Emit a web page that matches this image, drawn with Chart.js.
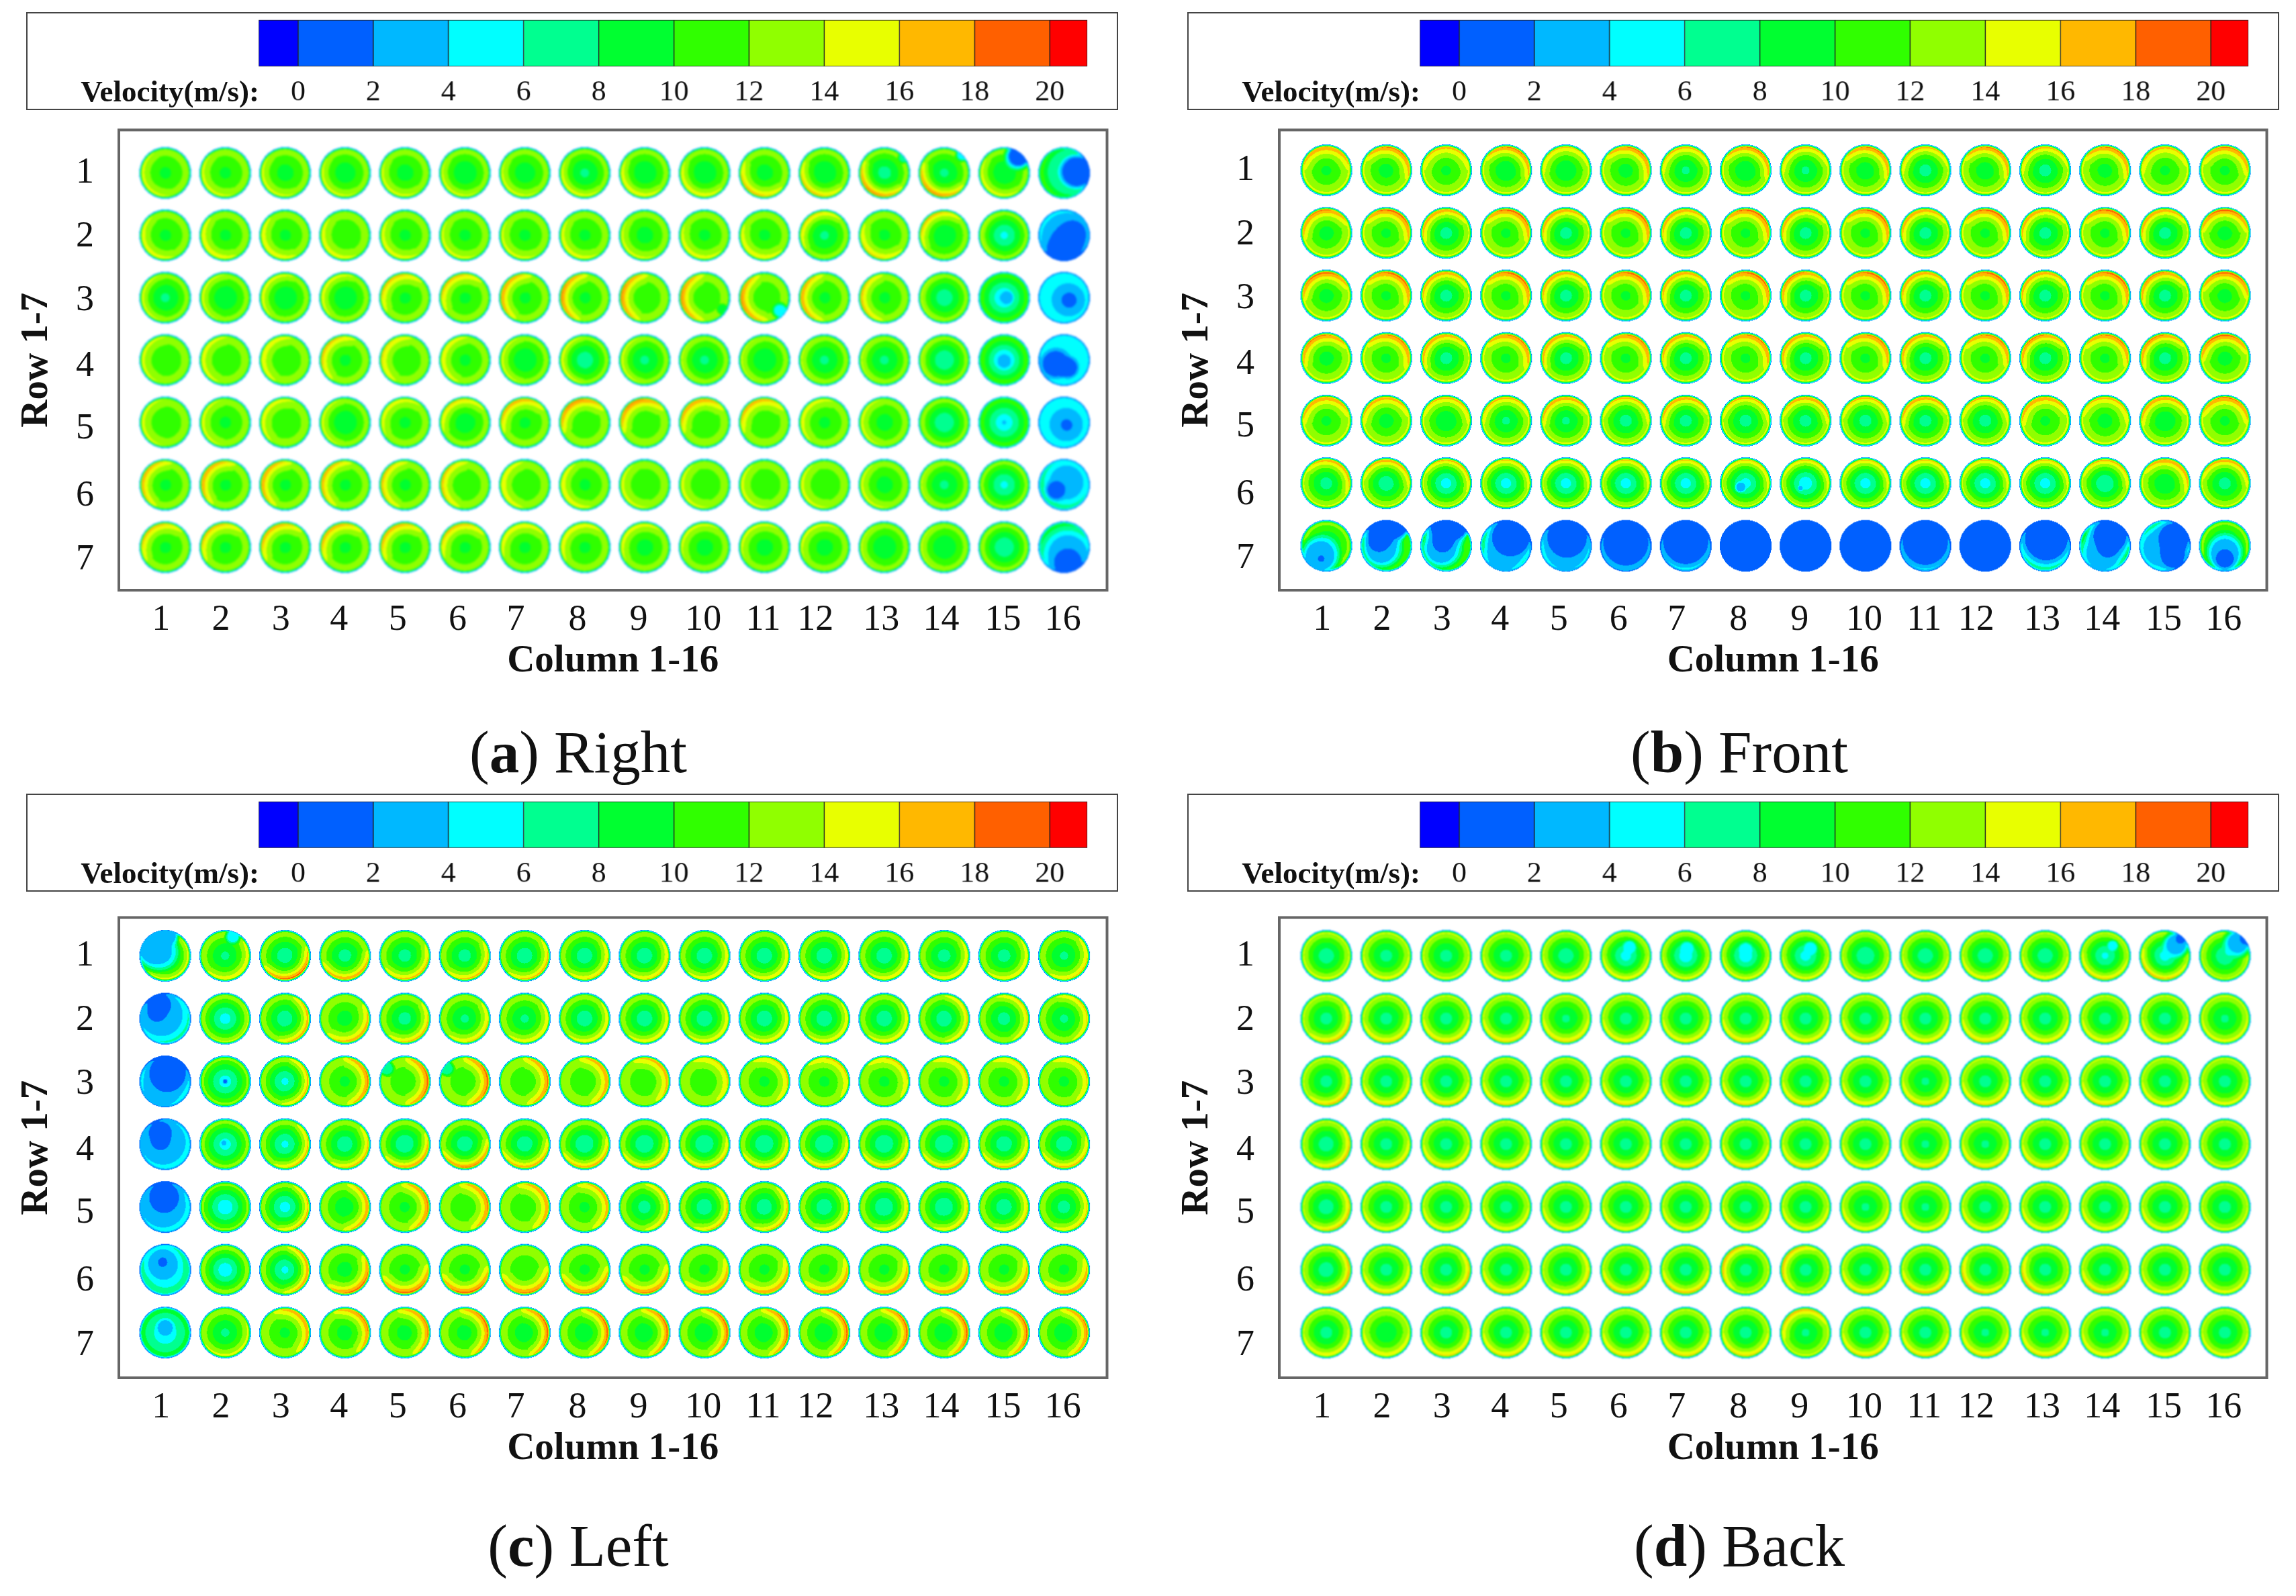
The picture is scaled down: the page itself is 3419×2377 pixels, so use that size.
<!DOCTYPE html>
<html>
<head>
<meta charset="utf-8">
<title>Velocity contours at the outlets</title>
<script src="https://cdn.jsdelivr.net/npm/chart.js@4/dist/chart.umd.min.js"></script>
<style>
  html, body { margin: 0; background: #fff; }
  #page { position: relative; width: 3419px; height: 2377px; overflow: hidden; font-family: 'Liberation Serif', serif; color: #111; }
  canvas { position: absolute; }
  .legendBox { box-sizing: border-box; border: 2px solid #444; }
  .velLabel { position: absolute; font-size: 45px; font-weight: bold; white-space: nowrap; transform: translate(-100%, -50%); }
  .caption { position: absolute; font-size: 89px; white-space: nowrap; transform: translate(-50%, -50%); }
</style>
</head>
<body>
<div id="page"></div>
<script>
//** COLOUR BAR */
const barEdges = [-1.05, 0, 2, 4, 6, 8, 10, 12, 14, 16, 18, 20, 21];
const barColors = ['#0000ff', '#0060ff', '#00b8ff', '#00ffff', '#00ff90', '#00ff30', '#30ff00', '#90ff00', '#e8ff00', '#ffb800', '#ff6000', '#ff0000'];
const barTicks = [0, 2, 4, 6, 8, 10, 12, 14, 16, 18, 20];

//** AXIS LABELS, the printed labels sit a little off the outlets in the source figure */
const colLabels = ['1', '2', '3', '4', '5', '6', '7', '8', '9', '10', '11', '12', '13', '14', '15', '16'];
const rowLabels = ['1', '2', '3', '4', '5', '6', '7'];
const colTickAt = [0.93, 1.93, 2.93, 3.9, 4.88, 5.88, 6.85, 7.88, 8.9, 9.98, 10.98, 11.85, 12.95, 13.95, 14.98, 15.98];
const rowTickAt = [1, 2.03, 3.05, 4.1, 5.1, 6.18, 7.2];

//** RIGHT, velocity at the outlet centre, peak near the wall (m/s), side of the peak (deg clockwise from up) */
const rightCore = [
  [9.5,9.5,9,8.5,9,8,8.5,7.5,8,8,9,8,7,7.5,8,9],
  [9.5,9.5,9.5,10,9.5,9.5,9.5,9.5,9,9.5,9.5,7.5,9.5,8,5.5,6],
  [7.5,8,8,8,9.5,9.5,9.5,9.5,10,10,10,9.5,9.5,6.5,4,4],
  [10,10,10,9.5,10,9.5,8,6.5,7.5,7.5,8,7.5,7.5,6,3.5,4],
  [10,9.5,10,8,9.5,8.5,9.5,10,10,10,10,9.5,9,6,4.5,4],
  [9.5,9.5,9.5,9.5,9.5,10,10,9.5,10,10,10,10,9,7.5,5.5,5],
  [9.5,9.5,9.5,9.5,9.5,9.5,9.5,9.5,9,9,9,9,8,8,6,8],
];
const rightRim = [
  [15,15,15,15,15,15,15,15.5,16,16,17,17,18.5,18.5,15.5,13],
  [15.5,16,16,15.5,15.5,15,15,15.5,15,15.5,16,16.5,16.5,17,14.5,8],
  [15,15,15.5,15.5,17,17,18,18.5,18.5,18.5,18.5,18,17,14.5,11.5,6],
  [15,15.5,16,17,16.5,16,15,15.5,15,14.5,14.5,14.5,14.5,14.5,12,6],
  [15,15,15.5,15,15.5,16.5,17.5,18.5,18.5,18,17.5,15.5,15,14,11.5,6],
  [17.5,18,18,17.5,17,17,16,16,15,15,15,15,15,14.5,13.5,7],
  [17,17,17.5,17.5,17.5,17,16,16,15.5,15,15,15,14.5,14.5,14,9],
];
const rightDir = [
  [250,240,235,230,225,225,225,220,220,215,215,215,215,210,225,270],
  [240,235,235,235,230,230,230,230,230,215,215,320,215,320,270,0],
  [270,280,300,300,320,320,290,280,280,270,260,270,270,270,270,0],
  [280,280,290,300,290,280,270,270,270,270,270,270,270,270,270,0],
  [270,270,300,270,320,330,330,330,330,330,330,300,270,270,270,0],
  [290,300,290,290,280,280,270,250,250,250,250,250,250,270,270,0],
  [320,320,320,320,320,330,330,320,320,320,320,320,270,270,270,0],
];
// slow zones: row, column, x, y, reach (outlet radius = 1), lowest velocity
const rightLow = [
  [1,13,0.75,-0.6,0.25,6],[1,14,0.7,-0.7,0.3,5],[1,15,0.55,-0.65,0.6,1],[1,16,0.5,-0.05,0.9,0.5],[1,16,0.3,-0.05,1.3,6],
  [2,16,0.1,0.3,1,0.5],[2,16,-0.25,0.6,0.6,0.5],[2,16,0.35,-0.1,0.7,0.5],[2,16,0.1,0.1,1.5,3],
  [3,10,0.7,0.45,0.25,8],[3,11,0.6,0.5,0.35,5],[3,15,0.1,0,0.3,2.5],[3,16,0.2,0.1,0.4,0.5],[3,16,0.2,0.1,0.85,3],
  [4,15,0,0.05,0.3,2.5],[4,16,-0.35,0.15,0.7,0.5],[4,16,0.15,0.3,0.5,0.5],
  [5,15,0,0,0.1,3],[5,16,0.1,0.1,0.3,0.5],[5,16,0.1,0.1,0.85,3],
  [6,16,-0.3,0.2,0.5,0.5],[6,16,0.1,-0.1,0.95,3],
  [7,16,0.15,0.6,0.85,0.5],[7,16,0.15,0.3,1.2,3],
];

//** FRONT */
const frontCore = [
  [9.5,9,9.5,8,8,9,7.5,8,7.5,8.5,7,8.5,7,9,9.5,9.5],
  [9,9.5,7,9.5,7,9.5,7,9.5,7,9.5,7,9.5,7,9.5,7,9],
  [9,9.5,7,9.5,7,9.5,7,9.5,7,9.5,7,9.5,7,9.5,7,9],
  [9,9.5,7,9.5,7,9.5,7,9.5,7,9.5,7,9.5,7,9.5,7,9],
  [9.5,9,8,7.5,7.5,7,7,7,7,7,7,7,9.5,9,8,9.5],
  [7,6.5,5,5,5,5,5,5,4.5,5,5,5,5,6,8,7],
  [7,6,6,5,4,4,4,4,4,4,4,4,4,5,5,6],
];
const frontRim = [
  [18,18.5,17,18.5,16.5,18.5,17,18.5,17,18.5,17,18.5,17,18.5,17,18.5],
  [18.5,19,18,19,18,19,18,19,18,19,18,19,18,19,18,19],
  [19,19,18,19,18,19,18,19,18.5,19,18,19,18,19,18.5,19],
  [18.5,18.5,18,18.5,18,18.5,18,18.5,18,18.5,18,18.5,18.5,18.5,18.5,19],
  [18,17.5,17,17,18,17,18,17,18,17,18,17,18,17,18,18.5],
  [17.5,17.5,17,16.5,16.5,16.5,16.5,16.5,16.5,16.5,16.5,16.5,16.5,17,18,17.5],
  [13,12,12,10,9,8,8,2,2,2,8,4,9,10,10,13],
];
const frontDir = [
  [0,25,0,25,350,30,350,25,350,25,350,25,350,25,350,15],
  [340,25,335,25,335,30,335,25,335,30,335,25,335,25,335,0],
  [345,30,340,30,335,30,335,30,330,30,335,30,335,30,335,10],
  [335,30,330,30,330,30,335,30,330,30,330,25,330,25,330,350],
  [350,350,10,350,345,10,345,5,10,5,345,5,345,10,345,10],
  [30,10,25,15,15,15,10,15,15,15,10,15,10,15,25,10],
  [0,180,180,180,180,180,180,180,180,180,180,180,180,180,180,0],
];
const frontLow = [
  [6,8,-0.2,0.15,0.25,3],[6,9,-0.2,0.2,0.12,3],
  [7,1,-0.25,0.4,0.9,3],[7,1,-0.2,0.5,0.15,0.5],
  [7,2,-0.1,-0.7,0.95,0.5],[7,2,-0.3,-0.15,0.6,0.5],[7,2,0.45,-0.75,0.55,0.5],[7,2,-0.2,0.1,0.9,3],
  [7,3,0,-0.7,0.95,0.5],[7,3,-0.15,-0.1,0.55,0.5],[7,3,0.45,-0.7,0.5,0.5],[7,3,-0.2,0.1,0.9,3],
  [7,4,0.2,-0.35,1.15,0.5],[7,4,-0.1,0.35,1,3],[7,5,0.05,-0.35,1.2,0.5],[7,5,0,0.2,1.15,3],
  [7,6,0,-0.12,1.35,0.5],[7,7,0,-0.18,1.35,0.5],[7,8,0,0,1.6,0.5],[7,9,0,0,1.6,0.5],[7,10,0,0,1.6,0.5],
  [7,11,0,-0.15,1.35,0.5],[7,12,0,0,1.5,0.5],[7,13,0.05,-0.3,1.3,0.5],
  [7,14,0.2,-0.4,1,0.5],[7,14,0.1,0.1,0.5,0.5],[7,14,-0.1,0.3,1,3],
  [7,15,0.35,-0.3,0.9,0.5],[7,15,0.3,0.4,0.7,0.5],[7,15,-0.15,0.1,1.1,3],
  [7,16,0,0.5,0.55,0.5],[7,16,0,0.3,0.85,3],
];

//** LEFT */
const leftCore = [
  [5,7.5,6.5,7,7,7,6.5,6.5,6.5,6.5,6.5,6.5,6.5,7,7,7.5],
  [4,5,6.5,9,7,7.5,7.5,6.5,6.5,6.5,6.5,6.5,6.5,6.5,7,7.5],
  [3,5,5.5,9.5,10,10,10,10,10,10,9.5,9.5,9.5,9.5,9.5,9.5],
  [3.5,5,5.5,6.5,6,6.5,6.5,6,6,6,6,6,6,6,6.5,6.5],
  [3.5,4.5,5,8.5,9.5,10,10,9.5,7,6.5,6.5,6.5,6,6,6.5,7],
  [4,4.5,5.5,9,9.5,9.5,10,9.5,9.5,9.5,9.5,9.5,9.5,9.5,9.5,9.5],
  [4.5,7.5,9.5,9,9,9,8.5,8.5,8.5,8.5,8.5,8.5,8.5,8.5,8.5,8.5],
];
const leftRim = [
  [15,16,19,18,17,17,17,16.5,16.5,16,16,16,16,16,16,16.5],
  [8,14.5,17.5,17.5,17,16.5,16,16,16,16,16,16,16,16.5,16.5,16.5],
  [7,13,17,18.5,19,19,18.5,18,17.5,16.5,16.5,16.5,16.5,16.5,16.5,16.5],
  [7,13.5,17,17,18,18.5,17.5,17.5,17,17,17,17,17,17,17,17],
  [7,13,17,18,18.5,18.5,18,17.5,17,17,17,16.5,16.5,16.5,16.5,16.5],
  [7,14,18,19,19,19,18.5,18.5,18.5,18,18,18,18,18,18,18],
  [9,15,18,18.5,18.5,19,19,19,19,19,19,19,19,19,19,18.5],
];
const leftDir = [
  [135,140,155,165,150,140,135,135,135,135,135,135,135,135,135,130],
  [90,140,110,140,135,135,135,135,135,135,135,135,135,90,70,70],
  [180,0,100,85,90,85,85,75,60,60,60,45,45,60,60,60],
  [180,0,120,130,150,165,165,160,160,160,160,160,160,160,160,160],
  [180,0,110,95,80,75,70,70,90,120,120,120,120,120,120,120],
  [0,0,95,140,165,170,170,170,165,150,150,150,150,150,150,150],
  [0,150,60,60,70,75,80,80,80,80,80,80,80,80,80,80],
];
const leftLow = [
  [1,1,-0.4,-0.3,1,3],[1,1,0.1,-0.8,0.5,3],[1,2,0.3,-0.75,0.35,5],
  [2,1,-0.25,-0.55,0.7,0.5],[2,1,-0.35,-0.2,0.45,0.5],[2,1,-0.2,-0.2,1.3,3],
  [3,1,0.1,-0.35,1.05,0.5],[3,1,-0.1,0.2,1.2,3.5],[3,2,0,0,0.12,1.5],[3,5,-0.7,-0.5,0.35,7],[3,6,-0.7,-0.5,0.35,7],
  [4,1,-0.2,-0.45,0.65,0.5],[4,1,-0.2,-0.1,0.45,0.5],[4,1,-0.1,-0.1,1.3,3],[4,2,-0.05,-0.05,0.12,2.5],
  [5,1,-0.05,-0.4,0.85,0.5],[5,1,-0.1,-0.1,1.3,3],
  [6,1,-0.1,-0.3,0.25,0.5],[6,1,-0.1,-0.25,0.8,3],
  [7,1,0,-0.2,0.4,3],
];

//** BACK */
const backCore = [
  [6.5,7,7,7,6.5,5,4.5,4.5,5,6,6.5,6.5,6.5,5.5,5,6],
  [7,7,7,7,7.5,7,7,7,7,7,7,7,7,7,7,7.5],
  [7,7,7,7,7,7,7,7,7,7,7.5,7,7,7,7,7],
  [6.5,7,7,7,7,7,7,7,7,7,7.5,7.5,7,7,7,7],
  [6.5,7,7,7,7,7,7,7,7,7.5,7.5,7,7,7,7,7],
  [6.5,7,7,7,7,7,7,7,7,7,7,7,7,7,7,7],
  [7,8,7,7,7,7,7,7,7.5,7,7,7.5,7.5,7.5,7,7],
];
const backRim = [
  [15,15.5,15,15.5,15.5,16,15.5,15.5,15.5,15,15.5,16,16,16.5,17,14.5],
  [17,16.5,16.5,16.5,16.5,16,16,16.5,16,16.5,16,16.5,16,16,16,15.5],
  [17,16.5,16.5,16.5,16.5,16.5,16,16.5,16.5,16,16.5,16.5,16.5,16.5,16,15.5],
  [17,16.5,16.5,16.5,16.5,16.5,16.5,16.5,16.5,16,16.5,16.5,16.5,16,16,15],
  [17,16,16,16,16,16,16,16,16,16,16,16,16,16,16,15],
  [17.5,16.5,17,16.5,16.5,17,17,17,17,16.5,17,17,17,17,15.5,15.5],
  [16,16,16.5,16.5,16.5,16.5,16.5,16.5,17,16.5,16.5,16.5,16.5,16,16,15.5],
];
const backDir = [
  [180,180,180,180,180,180,180,180,180,180,180,180,180,190,200,220],
  [140,170,180,180,180,180,180,180,180,180,180,180,180,180,180,180],
  [140,170,180,180,180,180,180,180,180,180,180,180,180,180,180,180],
  [130,170,180,180,180,180,180,180,180,180,180,180,180,180,180,180],
  [130,170,180,180,180,180,180,180,180,180,180,180,180,180,180,180],
  [120,170,130,180,130,180,180,300,300,180,180,220,220,180,180,180],
  [170,180,170,180,180,180,180,180,340,180,180,180,180,180,180,180],
];
const backLow = [
  [1,6,0.15,-0.35,0.3,4],[1,7,0.05,-0.3,0.3,4],[1,8,0,-0.25,0.3,4],[1,9,0.2,-0.3,0.3,4],[1,14,0.3,-0.4,0.25,4],
  [1,15,0.6,-0.65,0.3,0.5],[1,15,0.45,-0.45,0.6,3],[1,16,0.8,-0.65,0.35,0.5],[1,16,0.5,-0.5,0.65,3.5],
];

//** LAYOUT */
const panels = [
  { caption: ['a', ') Right'], capX: 861, capY: 1120, legendX: 39, legendY: 18, frame: { l: 177, t: 194, r: 1648, b: 879 },
    xRange: [0.2265, 16.717], yRange: [0.31, 7.69], blur: 1.5, wallBand: 13.5, core: rightCore, rim: rightRim, dir: rightDir, low: rightLow },
  { caption: ['b', ') Front'], capX: 2590, capY: 1120, legendX: 1768, legendY: 18, frame: { l: 1905, t: 194, r: 3375, b: 879 },
    xRange: [0.215, 16.7], yRange: [0.355, 7.71], blur: 0.6, wallBand: 14.5, core: frontCore, rim: frontRim, dir: frontDir, low: frontLow },
  { caption: ['c', ') Left'], capX: 861, capY: 2302, legendX: 39, legendY: 1182, frame: { l: 177, t: 1367, r: 1648, b: 2052 },
    xRange: [0.2265, 16.717], yRange: [0.39, 7.72], blur: 0.6, wallBand: 14, core: leftCore, rim: leftRim, dir: leftDir, low: leftLow },
  { caption: ['d', ') Back'], capX: 2590, capY: 2302, legendX: 1768, legendY: 1182, frame: { l: 1905, t: 1367, r: 3375, b: 2052 },
    xRange: [0.215, 16.7], yRange: [0.39, 7.72], blur: 1.3, wallBand: 14.5, core: backCore, rim: backRim, dir: backDir, low: backLow },
];

const serif = "'Liberation Serif', serif";
const page = document.getElementById('page');
const outletRadius = 38.5;

Chart.defaults.animation = false;
Chart.defaults.devicePixelRatio = 1;

//** FRAME AROUND THE PLOT */
const frameBorder = {
  id: 'frameBorder',
  afterDraw(chart) {
    const a = chart.chartArea, g = chart.ctx;
    g.save();
    g.strokeStyle = '#666';
    g.lineWidth = 4;
    g.strokeRect(a.left, a.top, a.right - a.left, a.bottom - a.top);
    g.restore();
  }
};

function bandColor(v) {
  let i = Math.floor(v / 2) + 1;
  return barColors[Math.max(0, Math.min(barColors.length - 1, i))];
}

//** PAINTS ONE OUTLET AS CONTOUR BANDS, used as the point style of its data point */
function outletSprite(core, rim, dirDeg, zones, blur, wallBand) {
  const R = outletRadius, size = Math.ceil(2 * R) + 10, c = size / 2;
  const raw = document.createElement('canvas');
  raw.width = raw.height = size;
  const g = raw.getContext('2d');
  const dir = dirDeg * Math.PI / 180;
  const band = Math.min(wallBand, rim);
  for (let py = 0; py < size; py++) {
    for (let px = 0; px < size; px++) {
      const x = (px + 0.5 - c) / R, y = (py + 0.5 - c) / R, r = Math.hypot(x, y);
      if (r > 1) continue;
      const rn = Math.min(r / 0.9, 1);
      const lobe = Math.max(0, Math.cos(Math.atan2(x, -y) - dir));
      let v = core + (band - core) * Math.pow(rn, 1.5) + (rim - band) * Math.sqrt(lobe) * Math.pow(rn, 2.5);
      if (r > 0.9) v += (1 - v) * (r - 0.9) / 0.1;
      for (const z of zones) {
        const t = Math.max(0, Math.min(1, (Math.hypot(x - z[2], y - z[3]) / z[4] - 0.55) / 0.45));
        v = Math.min(v, z[5] + (v - z[5]) * t);
      }
      g.fillStyle = bandColor(v);
      g.fillRect(px, py, 1, 1);
    }
  }
  const soft = document.createElement('canvas');
  soft.width = soft.height = size;
  const sg = soft.getContext('2d');
  sg.filter = 'blur(' + blur + 'px)';
  sg.drawImage(raw, 0, 0);
  return soft;
}

function addCanvas(left, top, w, h) {
  const cv = document.createElement('canvas');
  cv.width = w; cv.height = h;
  cv.style.left = left + 'px';
  cv.style.top = top + 'px';
  page.appendChild(cv);
  return cv;
}

//** VELOCITY COLOUR BAR WITH ITS TICKS */
function addColorBar(p) {
  const cv = addCanvas(p.legendX, p.legendY, 1626, 146);
  cv.className = 'legendBox';
  new Chart(cv, {
    type: 'bar',
    data: {
      labels: ['Velocity'],
      datasets: barColors.map((color, i) => ({
        data: [[barEdges[i], barEdges[i + 1]]],
        backgroundColor: color,
        borderColor: '#222',
        borderWidth: 1,
        borderSkipped: false,
        barPercentage: 1,
        categoryPercentage: 1,
      })),
    },
    options: {
      indexAxis: 'y',
      responsive: false,
      layout: { padding: { left: 345, right: 44, top: 10 } },
      plugins: { legend: { display: false }, tooltip: { enabled: false } },
      scales: {
        y: { display: false, stacked: true },
        x: {
          min: barEdges[0],
          max: barEdges[barEdges.length - 1],
          afterFit: s => { s.height = 65; },
          afterBuildTicks: s => { s.ticks = barTicks.map(v => ({ value: v })); },
          grid: { display: false, drawTicks: false },
          border: { display: false },
          ticks: { color: '#111', padding: 18, maxRotation: 0, autoSkip: false, font: { family: serif, size: 44, lineHeight: 1 } },
        },
      },
    },
  });
  const label = document.createElement('span');
  label.className = 'velLabel';
  label.textContent = 'Velocity(m/s):';
  label.style.left = (p.legendX + 347) + 'px';
  label.style.top = (p.legendY + 118) + 'px';
  page.appendChild(label);
}

//** GRID OF OUTLETS */
function addField(p) {
  // chart.js keeps about half a tick label free above and right of the area, so the canvas is made that much larger
  const yAxisW = 150, padTop = 40, padRight = 40, xAxisH = 135;
  const f = p.frame;
  const cv = addCanvas(f.l - yAxisW, f.t - padTop, f.r - f.l + yAxisW + padRight, f.b - f.t + padTop + xAxisH);
  const points = [], sprites = [];
  p.core.forEach((row, r) => row.forEach((v, c) => {
    points.push({ x: c + 1, y: r + 1 });
    const zones = p.low.filter(z => z[0] === r + 1 && z[1] === c + 1);
    sprites.push(outletSprite(v, p.rim[r][c], p.dir[r][c], zones, p.blur, p.wallBand));
  }));
  new Chart(cv, {
    type: 'scatter',
    data: {
      datasets: [{
        data: points,
        pointRadius: outletRadius,
        pointStyle: ctx => sprites[ctx.dataIndex],
      }],
    },
    options: {
      responsive: false,
      layout: { padding: { top: 12, right: 12 } },
      plugins: { legend: { display: false }, tooltip: { enabled: false } },
      scales: {
        x: {
          type: 'linear',
          min: p.xRange[0],
          max: p.xRange[1],
          afterFit: s => { s.height = xAxisH; s.paddingLeft = 0; s.paddingRight = 0; },
          afterBuildTicks: s => { s.ticks = colTickAt.map(v => ({ value: v })); },
          grid: { display: false, drawTicks: false },
          border: { display: false },
          title: { display: true, text: 'Column 1-16', color: '#111', padding: { top: 7, bottom: 0 }, font: { family: serif, size: 57, weight: 'bold', lineHeight: 1 } },
          ticks: { color: '#111', padding: 18, maxRotation: 0, autoSkip: false, font: { family: serif, size: 54, lineHeight: 1 }, callback: (v, i) => colLabels[i] },
        },
        y: {
          type: 'linear',
          reverse: true,
          min: p.yRange[0],
          max: p.yRange[1],
          afterFit: s => { s.width = yAxisW; s.paddingTop = 0; s.paddingBottom = 0; },
          afterBuildTicks: s => { s.ticks = rowTickAt.map(v => ({ value: v })); },
          grid: { display: false, drawTicks: false },
          border: { display: false },
          title: { display: true, text: 'Row 1-7', color: '#111', padding: 0, font: { family: serif, size: 57, weight: 'bold', lineHeight: 1 } },
          ticks: { color: '#111', padding: 37, autoSkip: false, font: { family: serif, size: 54, lineHeight: 1 }, callback: (v, i) => rowLabels[i] },
        },
      },
    },
    plugins: [frameBorder],
  });
}

function addCaption(p) {
  const cap = document.createElement('div');
  cap.className = 'caption';
  cap.innerHTML = '(<b>' + p.caption[0] + '</b>' + p.caption[1];
  cap.style.left = p.capX + 'px';
  cap.style.top = p.capY + 'px';
  page.appendChild(cap);
}

panels.forEach(p => {
  addColorBar(p);
  addField(p);
  addCaption(p);
});
</script>
</body>
</html>
